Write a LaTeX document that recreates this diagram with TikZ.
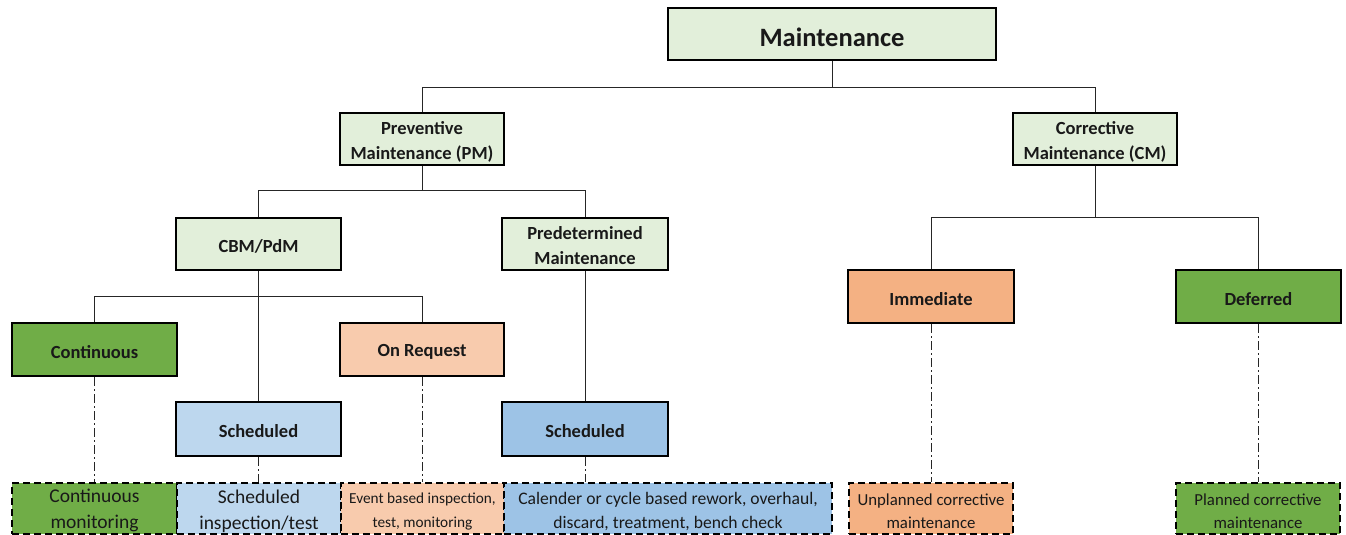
\documentclass[tikz,border=0pt]{standalone}
\usepackage{fontspec}
\setmainfont{Carlito}
\usetikzlibrary{calc}
\definecolor{lgreen}{HTML}{E2EFDA}
\definecolor{dgreen}{HTML}{70AD47}
\definecolor{lorange}{HTML}{F8CBAD}
\definecolor{morange}{HTML}{F4B183}
\definecolor{lblue}{HTML}{BDD7EE}
\definecolor{mblue}{HTML}{9DC3E6}
\newcommand\upstrut[1]{\rule{0pt}{\dimexpr0.73em+#1\relax}}
\tikzset{
  sdown/.style={execute at begin node={\rule{0pt}{#1}}},
  box/.style={draw=black, line width=2pt, inner sep=0pt, align=center, sdown=0.95em,
    minimum width=164pt, minimum height=52pt, font=\bfseries\fontsize{18.5}{25}\selectfont, text=black!90},
  leaf/.style={draw=black, line width=2pt, dash pattern=on 7pt off 4pt, inner sep=0pt, align=center,
    minimum height=51pt, text=black!90},
  conn/.style={draw=black!85, line width=1pt},
  dconn/.style={draw=black!85, line width=1pt, dash pattern=on 9pt off 3pt on 2pt off 3pt},
}
\begin{document}
\begin{tikzpicture}[x=1pt,y=-1pt]
\useasboundingbox (0,0) rectangle (1346,535);
% level 0
\node[box, fill=lgreen, minimum width=328pt, sdown=0.7em, font=\bfseries\fontsize{26.5}{30}\selectfont] (maint) at (832,34) {Maintenance};
% level 1
\node[box, fill=lgreen] (pm) at (422,139) {\upstrut{6pt}Preventive\\Maintenance (PM)};
\node[box, fill=lgreen] (cm) at (1095,139) {\upstrut{6pt}Corrective\\Maintenance (CM)};
% level 2
\node[box, fill=lgreen, minimum width=165pt] (cbm) at (258.5,244) {CBM/PdM};
\node[box, fill=lgreen, minimum width=166pt] (pred) at (585,244) {\upstrut{2pt}Predetermined\\Maintenance};
\node[box, fill=morange, minimum width=166pt, minimum height=53pt] (imm) at (931,296.5) {Immediate};
\node[box, fill=dgreen, minimum width=165pt, minimum height=53pt] (def) at (1258.5,296.5) {Deferred};
% level 3
\node[box, fill=dgreen, minimum width=165pt, minimum height=53pt] (cont) at (94.5,349.5) {Continuous};
\node[box, fill=lorange, minimum width=164pt, minimum height=53pt] (onreq) at (422,349.5) {On Request};
\node[box, fill=lblue, minimum width=165pt, minimum height=54pt] (sch1) at (258.5,429) {Scheduled};
\node[box, fill=mblue, minimum width=166pt, minimum height=54pt] (sch2) at (585,429) {Scheduled};
% leaves
\node[leaf, fill=dgreen, minimum width=165pt, font=\fontsize{19.5}{26}\selectfont] (l1) at (94.5,508.5) {\upstrut{4pt}Continuous\\monitoring};
\node[leaf, fill=lblue, minimum width=164pt, font=\fontsize{19.5}{26}\selectfont] (l2) at (259,508.5) {\upstrut{4pt}Scheduled\\inspection/test};
\node[leaf, fill=lorange, minimum width=163pt, font=\fontsize{15.3}{24}\selectfont] (l3) at (422.5,508.5) {\upstrut{5pt}Event based inspection,\\test, monitoring};
\node[leaf, fill=mblue, minimum width=328pt, font=\fontsize{17.6}{24}\selectfont] (l4) at (668,508.5) {\upstrut{5pt}Calender or cycle based rework, overhaul,\\discard, treatment, bench check};
\node[leaf, fill=morange, minimum width=164pt, font=\fontsize{16.8}{23}\selectfont] (l5) at (931,508.5) {\upstrut{5pt}Unplanned corrective\\maintenance};
\node[leaf, fill=dgreen, minimum width=164pt, font=\fontsize{16.8}{23}\selectfont] (l6) at (1258,508.5) {\upstrut{5pt}Planned corrective\\maintenance};
% junctions
\coordinate (j0) at (832,87);
\coordinate (j1) at (422,190);
\coordinate (j2) at (1095,217);
\coordinate (j3) at (259,296);
% connectors
\draw[conn] (maint.south) -- (j0);
\draw[conn] (pm.north) -- (pm.north |- j0) -- (cm.north |- j0) -- (cm.north);
\draw[conn] (pm.south) -- (j1);
\draw[conn] (cbm.north) -- (cbm.north |- j1) -- (pred.north |- j1) -- (pred.north);
\draw[conn] (cm.south) -- (j2);
\draw[conn] (imm.north) -- (imm.north |- j2) -- (def.north |- j2) -- (def.north);
\draw[conn] (cbm.south) -- (sch1.north);
\draw[conn] (cont.north) -- (cont.north |- j3) -- (onreq.north |- j3) -- (onreq.north);
\draw[conn] (pred.south) -- (sch2.north);
% dash-dot
\draw[dconn] (cont.south) -- (cont.south |- l1.north);
\draw[dconn] (sch1.south) -- (sch1.south |- l2.north);
\draw[dconn] (onreq.south) -- (onreq.south |- l3.north);
\draw[dconn] (sch2.south) -- (sch2.south |- l4.north);
\draw[dconn] (imm.south) -- (imm.south |- l5.north);
\draw[dconn] (def.south) -- (def.south |- l6.north);
\end{tikzpicture}
\end{document}
